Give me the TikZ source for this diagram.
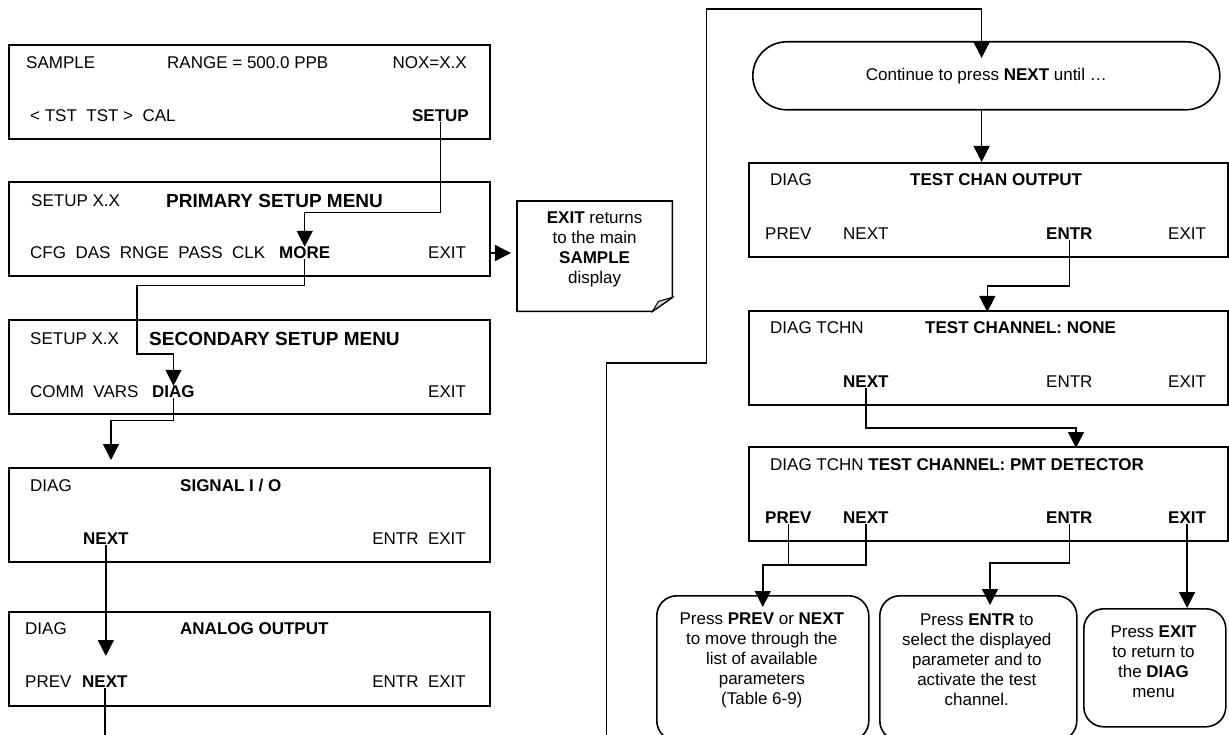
\documentclass[tikz,border=0pt]{standalone}
\usepackage{fontspec}
\setmainfont{Liberation Sans}
\usetikzlibrary{arrows.meta,positioning,calc}

\begin{document}
\begin{tikzpicture}[x=1pt, y=-1pt,
    screen/.style={draw, line width=1.6pt, anchor=north west, inner sep=0pt, minimum height=94pt},
    txt/.style={inner sep=0pt, anchor=west, font=\fontsize{17}{20}\selectfont},
    ttl/.style={inner sep=0pt, anchor=west, font=\fontsize{19}{22}\selectfont\bfseries},
    bubble/.style={draw, line width=1.6pt, rounded corners=20pt, anchor=north west, inner sep=0pt},
    wire/.style={line width=1.4pt},
    flow/.style={wire, -{Triangle[length=16pt, width=16pt]}}]

    \useasboundingbox (0,0) rectangle (1229,735);

    % left column of screens
    \foreach \nm/\tp in {b1/44, b2/181, b3/319, b4/467, b5/611}
      \node[screen, minimum width=481pt] (\nm) at (8,\tp) {};

    \node[txt] (smp) at (26,63) {SAMPLE};
    \node[txt] (rng) at (167,63) {RANGE = 500.0 PPB};
    \node[txt, anchor=east] (nox) at (467,63) {NOX=X.X};
    \node[txt] (tst) at (30,116) {<\ TST\ \ TST\ >\ \ CAL};
    \node[txt, anchor=east] (setup) at (469,116) {\bfseries SETUP};

    \node[txt] (st2) at (31,201) {SETUP X.X};
    \node[ttl] (prim) at (166,201) {PRIMARY SETUP MENU};
    \node[txt] (cfg) at (30,253) {CFG\ \ DAS\ \ RNGE\ \ PASS\ \ CLK};
    \node[txt] (more) at (279,253) {\bfseries MORE};
    \node[txt] (ex2) at (428,253) {EXIT};

    \node[txt] (st3) at (30,339) {SETUP X.X};
    \node[ttl] (sec) at (149,339) {SECONDARY SETUP MENU};
    \node[txt] (comm) at (30,392) {COMM\ \ VARS};
    \node[txt] (diag) at (152,392) {\bfseries DIAG};
    \node[txt] (ex3) at (428,392) {EXIT};

    \node[txt] (dg4) at (30,486) {DIAG};
    \node[txt] (sig) at (180,486) {\bfseries SIGNAL I / O};
    \node[txt] (nx4) at (83,539) {\bfseries NEXT};
    \node[txt, anchor=east] (en4) at (466,539) {ENTR\ \ EXIT};

    \node[txt] (dg5) at (25,629) {DIAG};
    \node[txt] (ana) at (180,629) {\bfseries ANALOG OUTPUT};
    \node[txt] (pv5) at (25,682) {PREV};
    \node[txt] (nx5) at (82,682) {\bfseries NEXT};
    \node[txt, anchor=east] (en5) at (466,682) {ENTR\ \ EXIT};

    \draw[flow] (setup.south) -- ++(0,90) -| (more.north);
    \draw[flow] (more.south) -- ++(0,26) -| (137,354) -| (diag.north);
    \coordinate (in4) at (111,460);
    \draw[flow] (diag.south) -- ++(0,22) -| (in4);
    \draw[flow] (nx4.south) -- (nx4.south |- 0,656);
    \draw[wire] (nx5.south) -- (nx5.south |- 0,740);

    % note with folded corner
    \node[minimum width=155pt, minimum height=110pt, inner sep=0pt, anchor=north west] (note) at (517,201) {};
    \draw[line width=1.6pt] (note.north west) -- (note.north east) -- ([yshift=14pt]note.south east)
      -- ([xshift=-20pt]note.south east) -- (note.south west) -- cycle;
    \filldraw[fill=gray!35, line width=1pt] ([yshift=14pt]note.south east) -- ([xshift=-20pt]note.south east)
      -- ([xshift=-14pt,yshift=10pt]note.south east) -- cycle;
    \node[txt, anchor=center, align=center] (notetxt) at (594.6,249)
      {{\bfseries EXIT} returns\\to the main\\{\bfseries SAMPLE}\\display};
    \coordinate (notein) at (511,253);
    \draw[flow] (b2.east |- notein) -- (notein);

    % right column
    \node[draw, line width=1.6pt, rounded corners=34pt, minimum width=467pt, minimum height=68pt,
      inner sep=0pt, anchor=north west, font=\fontsize{17}{20}\selectfont] (cont) at (752,41)
      {Continue to press {\bfseries NEXT} until …};

    \node[screen, minimum width=479pt] (r1) at (748,162) {};
    \node[screen, minimum width=479pt] (r2) at (748,310) {};
    \node[screen, minimum width=479pt] (r3) at (748,446) {};

    \node[txt] (dg6) at (770,180) {DIAG};
    \node[txt] (tco) at (910,180) {\bfseries TEST CHAN OUTPUT};
    \node[txt] (pv6) at (765,234) {PREV};
    \node[txt] (nx6) at (843,234) {NEXT};
    \node[txt] (en6) at (1046,234) {\bfseries ENTR};
    \node[txt] (ex6) at (1168,234) {EXIT};

    \node[txt] (dg7) at (770,328) {DIAG TCHN};
    \node[txt] (tcn) at (925,328) {\bfseries TEST CHANNEL: NONE};
    \node[txt] (nx7) at (843,382) {\bfseries NEXT};
    \node[txt] (en7) at (1046,382) {ENTR};
    \node[txt] (ex7) at (1168,382) {EXIT};

    \node[txt] (dg8) at (770,465) {DIAG TCHN {\bfseries TEST CHANNEL: PMT DETECTOR}};
    \node[txt] (pv8) at (765,518) {\bfseries PREV};
    \node[txt] (nx8) at (843,518) {\bfseries NEXT};
    \node[txt] (en8) at (1046,518) {\bfseries ENTR};
    \node[txt] (ex8) at (1168,518) {\bfseries EXIT};

    \node[bubble, minimum width=212pt, minimum height=145pt] (pa) at (656,595) {};
    \node[bubble, minimum width=197pt, minimum height=145pt] (pb) at (879,595) {};
    \node[bubble, minimum width=142pt, minimum height=118pt] (pc) at (1083,608) {};
    \node[txt, anchor=center, align=center] (patxt) at (761.8,660)
      {Press {\bfseries PREV} or {\bfseries NEXT}\\to move through the\\list of available\\parameters\\(Table 6-9)};
    \node[txt, anchor=center, align=center] (pbtxt) at (976.8,660)
      {Press {\bfseries ENTR} to\\select the displayed\\parameter and to\\activate the test\\channel.};
    \node[txt, anchor=center, align=center] (pctxt) at (1153.5,662)
      {Press {\bfseries EXIT}\\to return to\\the {\bfseries DIAG}\\menu};

    % the long way round from ANALOG OUTPUT
    \coordinate (loopstart) at (606.6,740);
    \coordinate (loopend) at (981.6,58);
    \draw[flow] (loopstart) |- (706.4,363) |- (981.6,9) -- (loopend);
    \draw[flow] (cont.south -| loopend) -- (loopend |- r1.north);
    \draw[flow] (en6.south) -- ++(0,46) -| (987.3,312);
    \draw[flow] (nx7.south) -- ++(0,40) -| (1076,448);
    \draw[wire] (pv8.south) -- ++(0,41);
    \draw[flow] (nx8.south) -- ++(0,41) -| (762.8,607);
    \draw[flow] (en8.south) -- ++(0,39) -| (990,605);
    \draw[flow] (ex8.south) -- (ex8.south |- pc.north);

\end{tikzpicture}
\end{document}
